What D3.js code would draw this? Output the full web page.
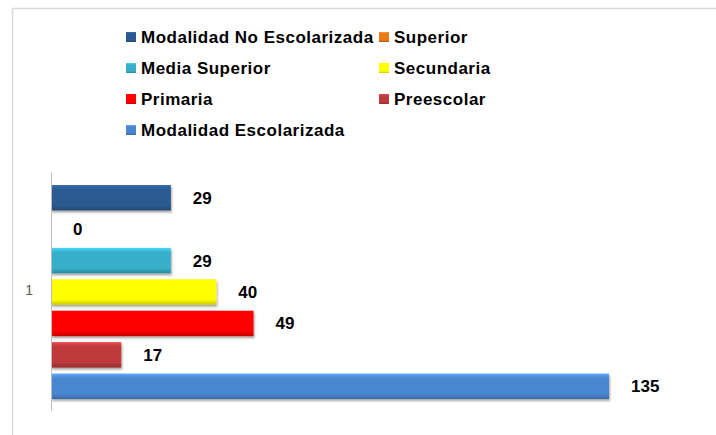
<!DOCTYPE html>
<html>
<head>
<meta charset="utf-8">
<script src="https://cdn.jsdelivr.net/npm/d3@7"></script>
<style>
  body { margin: 0; background: #fff; }
  text { font-family: Arial, "Liberation Sans", sans-serif; }
</style>
</head>
<body>
<div id="chart"></div>
<script>
// series, top to bottom as drawn
const series = ["Modalidad No Escolarizada", "Superior", "Media Superior", "Secundaria",
  "Primaria", "Preescolar", "Modalidad Escolarizada"];
const values = [29, 0, 29, 40, 49, 17, 135];
const colors = ["#2c5a90", "#e87a1e", "#37afca", "#ffff00", "#ff0000", "#bf3a3a", "#4a86d0"];
const categories = ["1"];

const svgWidth = 716;
const svgHeight = 435;

const svg = d3.select("#chart")
  .append("svg")
  .attr("width", svgWidth)
  .attr("height", svgHeight);

// outer frame (left and top edges visible)
svg.append("path")
  .attr("d", `M12.5,${svgHeight} V8.5 H${svgWidth}`)
  .attr("fill", "none")
  .attr("stroke", "#d9d9d9")
  .attr("stroke-width", 1.5);

// gradients for the bevelled look
const defs = svg.append("defs");
colors.forEach(function (c, i) {
  const g = defs.append("linearGradient")
    .attr("id", "grad" + i)
    .attr("x1", 0).attr("y1", 0).attr("x2", 0).attr("y2", 1);
  g.append("stop").attr("offset", "0%").attr("stop-color", d3.color(c).brighter(0.6));
  g.append("stop").attr("offset", "18%").attr("stop-color", c);
  g.append("stop").attr("offset", "80%").attr("stop-color", c);
  g.append("stop").attr("offset", "100%").attr("stop-color", d3.color(c).darker(0.7));
});
const shadow = defs.append("filter").attr("id", "shadow")
  .attr("x", "-5%").attr("y", "-20%").attr("width", "110%").attr("height", "160%");
shadow.append("feDropShadow")
  .attr("dx", 1).attr("dy", 2).attr("stdDeviation", 1.2)
  .attr("flood-color", "#000").attr("flood-opacity", 0.35);

// scales
const x = d3.scaleLinear().domain([0, 150]).range([51, 671]);
const yCat = d3.scaleBand().domain(categories).range([172, 410]);
const y = d3.scaleBand().domain(series).range([182, 402])
  .paddingInner(0.19).paddingOuter(0.095);

// bars
svg.append("g").selectAll("rect")
  .data(series)
  .enter()
  .append("rect")
  .attr("x", x(0))
  .attr("y", d => y(d))
  .attr("width", (d, i) => x(values[i]) - x(0))
  .attr("height", y.bandwidth())
  .attr("fill", (d, i) => `url(#grad${i})`)
  .attr("filter", (d, i) => values[i] > 0 ? "url(#shadow)" : null);

// value labels
svg.append("g").selectAll("text")
  .data(series)
  .enter()
  .append("text")
  .attr("x", (d, i) => x(values[i]) + 22)
  .attr("y", d => y(d) + y.bandwidth() / 2)
  .attr("dy", "0.35em")
  .style("font-size", "17px")
  .style("font-weight", "bold")
  .attr("fill", "#000")
  .text((d, i) => values[i]);

// category axis
const leftAxis = d3.axisLeft(yCat).tickSize(0).tickPadding(18);
const axisG = svg.append("g")
  .attr("transform", `translate(${x(0)},0)`)
  .call(leftAxis);
axisG.select(".domain").attr("stroke", "#bfbfbf").attr("stroke-width", 1);
axisG.selectAll("text")
  .style("font-size", "14px")
  .attr("fill", "#595959");

// legend
const legendCols = [126, 379];
const legendRows = [37, 68, 99, 130];
const legend = svg.append("g").selectAll("g")
  .data(series)
  .enter()
  .append("g")
  .attr("transform", (d, i) => `translate(${legendCols[i % 2]},${legendRows[Math.floor(i / 2)]})`);

legend.append("rect")
  .attr("x", 0)
  .attr("y", -5)
  .attr("width", 10)
  .attr("height", 10)
  .attr("fill", (d, i) => `url(#grad${i})`);

legend.append("text")
  .attr("x", 15)
  .attr("y", 0)
  .attr("dy", "0.35em")
  .style("font-size", "17px")
  .style("font-weight", "bold")
  .style("letter-spacing", "0.5px")
  .attr("fill", "#000")
  .text(d => d);
</script>
</body>
</html>
